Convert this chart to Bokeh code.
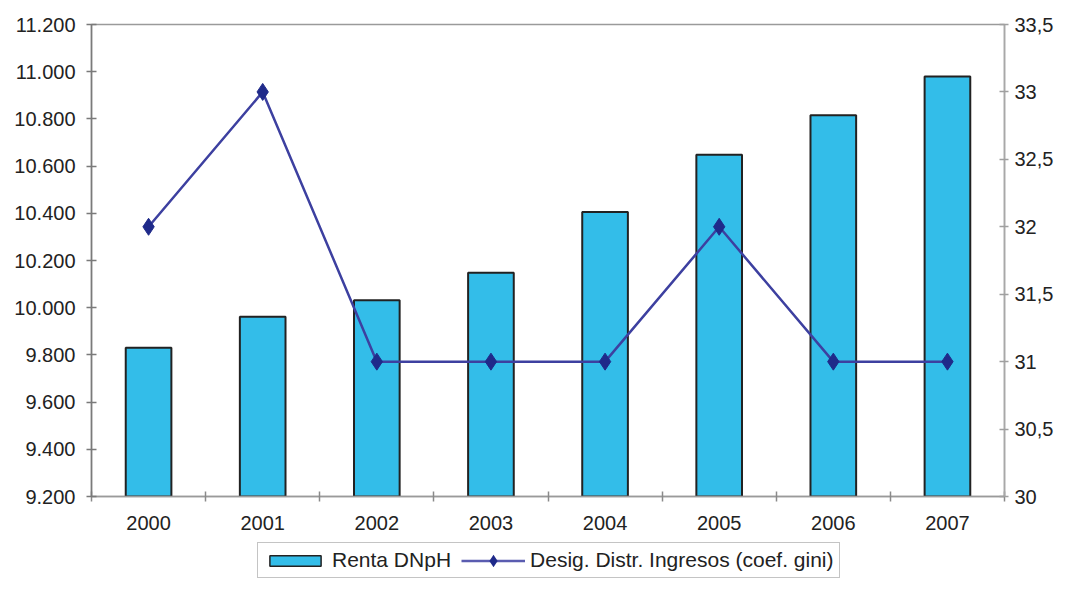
from bokeh.plotting import figure
from bokeh.layouts import column
from bokeh.models import (Range1d, LinearAxis, FixedTicker, CustomJSTickFormatter,
                          Legend, LegendItem)
from bokeh.embed import file_html
from bokeh.resources import INLINE

years = [2000, 2001, 2002, 2003, 2004, 2005, 2006, 2007]
renta = [9830, 9962, 10032, 10148, 10405, 10648, 10815, 10980]
gini = [32, 33, 31, 31, 31, 32, 31, 31]
left_ticks = [9200, 9400, 9600, 9800, 10000, 10200, 10400, 10600, 10800, 11000, 11200]
right_ticks = [30, 30.5, 31, 31.5, 32, 32.5, 33, 33.5]
series_names = ["Renta DNpH", "Desig. Distr. Ingresos (coef. gini)"]

FONT = "Liberation Sans"
TXT = "#222222"
FS = "20px"
BAR_FILL = "#33bde9"
BAR_LINE = "#222222"
LINE_C = "#3d40a0"
MARK_C = "#1f2a8a"

p = figure(width=1056, height=540, output_backend="svg", toolbar_location=None,
           x_range=Range1d(1999.5, 2007.5), y_range=Range1d(9200, 11200),
           min_border_left=91, min_border_right=49, min_border_top=24, min_border_bottom=44,
           x_axis_location=None, y_axis_location=None)
p.outline_line_color = "#9a9a9a"
p.outline_line_width = 1.5
p.xgrid.visible = False
p.ygrid.visible = False
p.background_fill_color = "white"
p.border_fill_color = "white"

p.extra_y_ranges = {"gini": Range1d(30, 33.5)}

# bottom axis: labels at years, ticks between categories
xaxis = LinearAxis(ticker=FixedTicker(ticks=years,
                                      minor_ticks=[y - 0.5 for y in years] + [years[-1] + 0.5]))
xaxis.major_tick_line_color = None
xaxis.minor_tick_in = 5
xaxis.minor_tick_out = 5
xaxis.minor_tick_line_color = "#8a8a8a"
xaxis.minor_tick_line_width = 1.5
xaxis.axis_line_color = "#9a9a9a"
xaxis.axis_line_width = 1.5
xaxis.major_label_standoff = 13
xaxis.major_label_text_font = FONT
xaxis.major_label_text_font_size = FS
xaxis.major_label_text_color = TXT
xaxis.formatter = CustomJSTickFormatter(code="return tick.toFixed(0);")
p.add_layout(xaxis, "below")

# left axis
yaxis = LinearAxis(ticker=FixedTicker(ticks=left_ticks))
yaxis.formatter = CustomJSTickFormatter(code="return (tick/1000).toFixed(3);")
yaxis.major_tick_in = 5
yaxis.major_tick_out = 5
yaxis.minor_tick_line_color = None
yaxis.major_tick_line_color = "#7a7a7a"
yaxis.major_tick_line_width = 1.5
yaxis.axis_line_color = "#7a7a7a"
yaxis.axis_line_width = 1.5
yaxis.major_label_standoff = 11
yaxis.major_label_text_font = FONT
yaxis.major_label_text_font_size = FS
yaxis.major_label_text_color = TXT
p.add_layout(yaxis, "left")

# right axis
raxis = LinearAxis(y_range_name="gini", ticker=FixedTicker(ticks=right_ticks))
raxis.formatter = CustomJSTickFormatter(code="return tick.toString().replace('.', ',');")
raxis.major_tick_in = 5
raxis.major_tick_out = 4
raxis.minor_tick_line_color = None
raxis.major_tick_line_color = "#a0a0a0"
raxis.major_tick_line_width = 1.5
raxis.axis_line_color = "#a8a8a8"
raxis.axis_line_width = 1.5
raxis.major_label_standoff = 6
raxis.major_label_text_font = FONT
raxis.major_label_text_font_size = FS
raxis.major_label_text_color = TXT
p.add_layout(raxis, "right")

p.vbar(x=years, top=renta, bottom=9200, width=0.4,
       fill_color=BAR_FILL, line_color=BAR_LINE, line_width=2)
p.line(years, gini, y_range_name="gini", line_color=LINE_C, line_width=2.5)
p.scatter(years, gini, y_range_name="gini", marker="diamond", size=17,
          fill_color=MARK_C, line_color=MARK_C)

# legend strip below the chart (hidden copies of the series; only the key shows)
q = figure(width=1056, height=38, output_backend="svg", toolbar_location=None,
           x_range=Range1d(1999.5, 2007.5), y_range=Range1d(9200, 11200),
           min_border=0, x_axis_location=None, y_axis_location=None)
q.outline_line_color = None
q.xgrid.visible = False
q.ygrid.visible = False
lb = q.vbar(x=years, top=renta, bottom=9200, width=0.4, fill_color=BAR_FILL,
            line_color=BAR_LINE, line_width=1.5, visible=False)
ll = q.line(x=years, y=gini, line_color="#5a5cb0", line_width=2.5, visible=False)
lm = q.scatter(x=years, y=gini, marker="diamond", size=15, fill_color=MARK_C,
               line_color=MARK_C, line_width=4, line_join="miter", visible=False)

legend = Legend(items=[LegendItem(label=series_names[0], renderers=[lb]),
                       LegendItem(label=series_names[1], renderers=[ll, lm])],
                orientation="horizontal", location=(166, 0))
legend.label_text_font = FONT
legend.label_text_font_size = "21px"
legend.label_text_color = TXT
legend.glyph_width = 64
legend.glyph_height = 13
legend.label_standoff = 5
legend.spacing = 10
legend.padding = 5
legend.margin = 0
legend.click_policy = "none"
legend.inactive_fill_alpha = 0
legend.border_line_color = "#8a8a8a"
legend.border_line_width = 1.5
legend.background_fill_alpha = 1
q.add_layout(legend, "center")

layout = column(p, q, spacing=0)
open("out.html", "w").write(file_html(layout, INLINE))
